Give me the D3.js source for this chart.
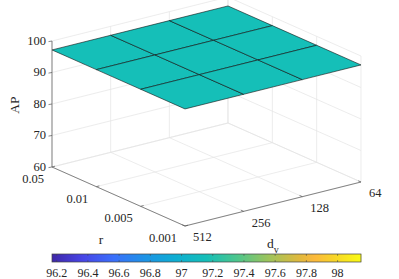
<!DOCTYPE html>
<html>
<head>
<meta charset="utf-8">
<script src="https://cdn.jsdelivr.net/npm/d3@7"></script>
<style>
  body { margin: 0; background: #fff; }
  svg { display: block; }
  text { font-family: 'Liberation Serif', 'Times New Roman', Times, serif; }
</style>
</head>
<body>
<svg id="chart" width="399" height="279"></svg>
<script>
// tick labels on the two horizontal axes (grid is indexed by these)
const rTicks = ['0.05', '0.01', '0.005', '0.001'];
const dvTicks = ['512', '256', '128', '64'];
const zTicks = [60, 70, 80, 90, 100];

// AP for each (r, d_v) pair, rows follow rTicks, columns follow dvTicks
const apValues = [
  [97.16, 97.16, 97.16, 97.16],
  [97.16, 97.16, 97.16, 97.16],
  [97.16, 97.16, 97.16, 97.16],
  [97.16, 97.16, 97.16, 97.16],
];

const colorLimits = [96.17, 98.15];
const colorbarTicks = [96.2, 96.4, 96.6, 96.8, 97, 97.2, 97.4, 97.6, 97.8, 98];

// parula, sampled
const parulaStops = [0, 0.1, 0.2, 0.3, 0.4, 0.5, 0.6, 0.7, 0.8, 0.85, 0.9, 1];
const parulaColors = ['#3e26a8', '#4745e6', '#3a6ffb', '#1d93e6', '#0eaed2', '#15bfb8',
                      '#4ec68c', '#9dc45c', '#e0b93e', '#fcb93c', '#f8cf2c', '#f9fb14'];

const svg = d3.select('#chart');

// simple fixed-view projection of the 3D box
const origin = [52, 167];
const rVec = [133, 59];
const dvVec = [176, -44];

const rPos = d3.scalePoint().domain(rTicks).range([0, 1]);
const dvPos = d3.scalePoint().domain(dvTicks).range([0, 1]);
const zPos = d3.scaleLinear().domain([60, 100]).range([0, 126]);

const colorScale = d3.scaleLinear()
    .domain(parulaStops.map(t => colorLimits[0] + t * (colorLimits[1] - colorLimits[0])))
    .range(parulaColors)
    .clamp(true);

function project(r, dv, z) {
  const a = rPos(r), b = dvPos(dv);
  return [origin[0] + rVec[0] * a + dvVec[0] * b,
          origin[1] + rVec[1] * a + dvVec[1] * b - zPos(z)];
}

const line = d3.line();
const gridColor = '#e4e4e4';
const axisColor = '#555';

const r0 = rTicks[0], r1 = rTicks[rTicks.length - 1];
const d0 = dvTicks[0], d1 = dvTicks[dvTicks.length - 1];
const zMin = zTicks[0], zMax = zTicks[zTicks.length - 1];

const grid = svg.append('g')
    .attr('fill', 'none')
    .attr('stroke', gridColor)
    .attr('stroke-width', 0.7);

// floor grid
rTicks.forEach(r => grid.append('path').attr('d', line([project(r, d0, zMin), project(r, d1, zMin)])));
dvTicks.forEach(dv => grid.append('path').attr('d', line([project(r0, dv, zMin), project(r1, dv, zMin)])));

// back walls: vertical lines
dvTicks.forEach(dv => grid.append('path').attr('d', line([project(r0, dv, zMin), project(r0, dv, zMax)])));
rTicks.forEach(r => grid.append('path').attr('d', line([project(r, d1, zMin), project(r, d1, zMax)])));

// back walls: horizontal z lines
zTicks.forEach(z => grid.append('path')
    .attr('d', line([project(r0, d0, z), project(r0, d1, z), project(r1, d1, z)])));

// surface
const faces = [];
for (let i = 0; i < rTicks.length - 1; i++) {
  for (let j = 0; j < dvTicks.length - 1; j++) {
    faces.push({ i, j });
  }
}
svg.append('g')
  .selectAll('path')
  .data(faces)
  .join('path')
    .attr('d', f => line([
      project(rTicks[f.i], dvTicks[f.j], apValues[f.i][f.j]),
      project(rTicks[f.i + 1], dvTicks[f.j], apValues[f.i + 1][f.j]),
      project(rTicks[f.i + 1], dvTicks[f.j + 1], apValues[f.i + 1][f.j + 1]),
      project(rTicks[f.i], dvTicks[f.j + 1], apValues[f.i][f.j + 1]),
    ]) + 'Z')
    .attr('fill', f => colorScale(apValues[f.i][f.j]))
    .attr('stroke', '#111')
    .attr('stroke-width', 0.6)
    .attr('stroke-linejoin', 'round');

// axis lines
const axes = svg.append('g')
    .attr('fill', 'none')
    .attr('stroke', axisColor)
    .attr('stroke-width', 0.7);
axes.append('path').attr('d', line([project(r0, d0, zMin), project(r0, d0, zMax)]));
axes.append('path').attr('d', line([project(r0, d0, zMin), project(r1, d0, zMin)]));
axes.append('path').attr('d', line([project(r1, d0, zMin), project(r1, d1, zMin)]));

const labels = svg.append('g')
    .attr('fill', '#262626')
    .attr('font-size', '12.5px');

// z ticks
zTicks.forEach(z => {
  const [x, y] = project(r0, d0, z);
  axes.append('path').attr('d', line([[x - 3.5, y + 0.6], [x, y]]));
  labels.append('text')
      .attr('x', x - 6).attr('y', y - 0.5)
      .attr('dy', '0.35em')
      .attr('text-anchor', 'end')
      .text(z);
});

// r ticks
rTicks.forEach(r => {
  const [x, y] = project(r, d0, zMin);
  axes.append('path').attr('d', line([[x, y], [x + 3, y - 0.8]]));
  labels.append('text')
      .attr('x', x - 8).attr('y', y + 11.5)
      .attr('dy', '0.35em')
      .attr('text-anchor', 'end')
      .text(r);
});

// d_v ticks
dvTicks.forEach(dv => {
  const [x, y] = project(r1, dv, zMin);
  axes.append('path').attr('d', line([[x, y], [x - 2.8, y - 1.2]]));
  labels.append('text')
      .attr('x', x + 8).attr('y', y + 11)
      .attr('dy', '0.35em')
      .attr('text-anchor', 'start')
      .text(dv);
});

// axis titles
labels.append('text')
    .attr('transform', 'translate(19,105) rotate(-90)')
    .attr('text-anchor', 'middle')
    .attr('font-size', '13.5px')
    .text('AP');
labels.append('text')
    .attr('x', 101).attr('y', 244)
    .attr('text-anchor', 'middle')
    .attr('font-size', '13.5px')
    .text('r');
const dvLabel = labels.append('text')
    .attr('x', 267).attr('y', 248)
    .attr('font-size', '13.5px');
dvLabel.append('tspan').text('d');
dvLabel.append('tspan').attr('font-size', '10px').attr('dy', 5).text('v');

// colorbar
const cbX = d3.scaleLinear().domain(colorLimits).range([52, 361]);
const cbTop = 254, cbH = 8;
const cb = svg.append('g');
cb.selectAll('rect')
  .data(d3.range(cbX.range()[0], cbX.range()[1]))
  .join('rect')
    .attr('x', px => px)
    .attr('y', cbTop)
    .attr('width', 1.2)
    .attr('height', cbH)
    .attr('fill', px => colorScale(cbX.invert(px + 0.5)));
cb.append('rect')
    .attr('x', cbX.range()[0]).attr('y', cbTop)
    .attr('width', cbX.range()[1] - cbX.range()[0]).attr('height', cbH)
    .attr('fill', 'none')
    .attr('stroke', '#444')
    .attr('stroke-width', 0.7);
colorbarTicks.forEach(v => {
  const x = cbX(v);
  cb.append('path').attr('d', line([[x, cbTop], [x, cbTop + 1.8]]))
      .attr('stroke', '#444').attr('stroke-width', 0.6);
  cb.append('path').attr('d', line([[x, cbTop + cbH], [x, cbTop + cbH - 1.8]]))
      .attr('stroke', '#444').attr('stroke-width', 0.6);
  labels.append('text')
      .attr('x', x).attr('y', 273)
      .attr('dy', '0.35em')
      .attr('text-anchor', 'middle')
      .attr('font-size', '12px')
      .text(v);
});
</script>
</body>
</html>
